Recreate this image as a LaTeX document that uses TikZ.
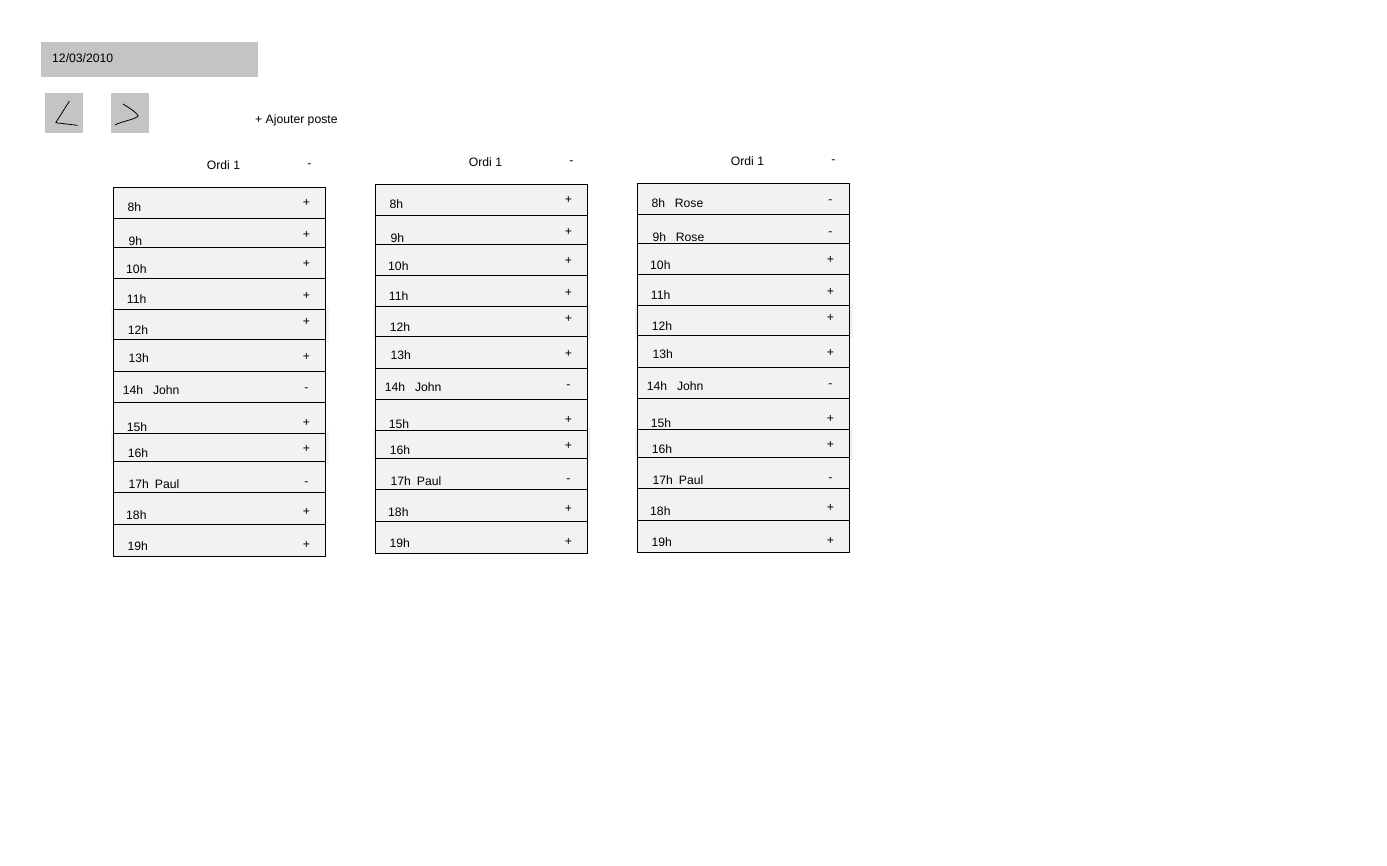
\documentclass[tikz,border=0pt]{standalone}
\usepackage{fontspec}
\setmainfont{Liberation Sans}
\definecolor{btngray}{HTML}{C4C4C4}
\definecolor{rowgray}{HTML}{F2F2F2}
\tikzset{
  btn/.style={fill=btngray, draw=none, inner sep=0pt},
  rowbox/.style={fill=rowgray, draw=black, line width=0.9pt},
  lbl/.style={anchor=west, inner sep=0pt, font=\fontsize{12.2}{14}\selectfont},
  txt/.style={inner sep=0pt, font=\fontsize{12.2}{14}\selectfont},
  pen/.style={line width=0.8pt, line cap=round, line join=round}
}
\newcommand{\plancol}[9]{%
  \begin{scope}[shift={(#1,#2)}]
    \node[txt] (c#3head) at (223.5,165) {Ordi 1};
    \node[txt] (c#3del) at (309.5,165.5) {-};
    % soft shadows of raised rows
    \fill[black!5] (110.5,307.5) rectangle (328.5,342);
    \fill[black!5] (110.5,431) rectangle (328.5,463.5);
    \foreach \n/\t/\b/\ly/\sy/\lx/\tx/\sg in {
      1/187/218.5/207/#8/127.3/{#4}/{#6},
      2/218.5/247.5/241/#9/128.3/{#5}/{#7},
      3/247.5/278.5/269/264/126/{10h}/{+},
      4/278.5/309.5/299/296/126.7/{11h}/{+},
      5/309.5/339.5/330/322/127.7/{12h}/{+},
      6/339.5/371/358/357/128.3/{13h}/{+},
      7/371/402/390/390/122.7/{14h\hspace{0.8em}John}/{-},
      8/402/433/427/423/126.7/{15h}/{+},
      9/433/461/453/449/127.7/{16h}/{+},
      10/461/492.5/484/483.5/128.3/{17h\hspace{0.5em}Paul}/{-},
      11/492.5/524/515/512/126/{18h}/{+},
      12/524/556/546/545/127.3/{19h}/{+}}{
      \draw[rowbox] (113,\t) rectangle (325,\b);
      \node[lbl] (c#3r\n) at (\lx,\ly) {\tx};
      \node[txt] (c#3s\n) at (306.5,\sy) {\sg};
    }
  \end{scope}}
\begin{document}
\begin{tikzpicture}[x=1pt,y=-1pt]
\useasboundingbox (0,0) rectangle (1387,865);
% date bar
\fill[btngray] (41,42) rectangle (258,77);
\node[lbl] (date) at (52,58) {12/03/2010};
% navigation buttons
\fill[btngray] (45,93) rectangle (83,133);
\fill[btngray] (111,93) rectangle (149,133);
\draw[pen] (69.3,101.3) -- (55.7,122.7) -- (77.3,125.3);
\draw[pen] (123,104) .. controls (131,109) and (137,113) .. (138.3,116)
  .. controls (134,120) and (122,121) .. (115,125);
\node[lbl] (add) at (255,120) {+ Ajouter poste};
% columns
\plancol{0}{0}{1}{8h}{9h}{+}{+}{203}{235}
\plancol{262}{-3}{2}{8h}{9h}{+}{+}{203}{235}
\plancol{524}{-4}{3}{8h\hspace{0.8em}Rose}{9h\hspace{0.8em}Rose}{-}{-}{206}{238}
\end{tikzpicture}
\end{document}
